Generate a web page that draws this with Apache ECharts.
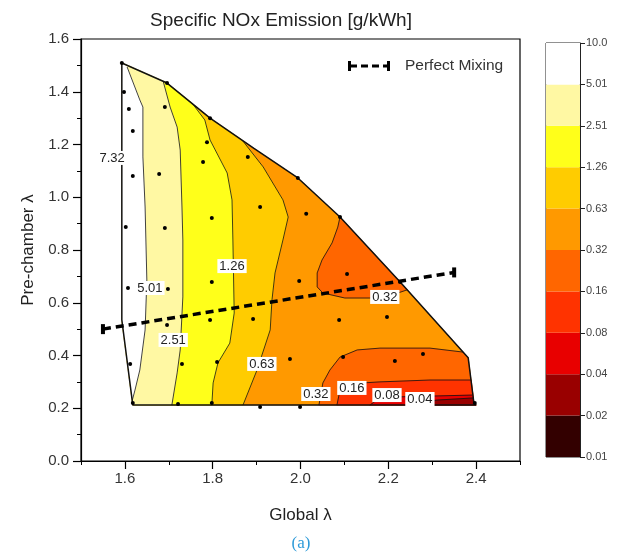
<!DOCTYPE html>
<html>
<head>
<meta charset="utf-8">
<script src="https://cdn.jsdelivr.net/npm/echarts@6/dist/echarts.min.js"></script>
<style>
  html, body { margin: 0; padding: 0; background: #fff; }
  #main { width: 627px; height: 556px; }
</style>
</head>
<body>
<div id="main"></div>
<script>
// outline of the measured domain (Global λ, Pre-chamber λ)
var domainEdge = [
  [1.593, 1.509], [1.696, 1.433], [1.794, 1.300], [1.894, 1.185], [1.994, 1.073],
  [2.090, 0.925], [2.227, 0.679], [2.382, 0.391], [2.395, 0.220], [2.400, 0.212],
  [1.618, 0.212], [1.593, 0.535], [1.593, 1.509]
];

// contour lines
var c501 = [[1.605, 1.494], [1.634, 1.369], [1.641, 1.342], [1.641, 1.153], [1.646, 0.963],
  [1.650, 0.686], [1.646, 0.497], [1.634, 0.345], [1.623, 0.269], [1.617, 0.231]];
var c251 = [[1.687, 1.441], [1.703, 1.342], [1.719, 1.266], [1.726, 1.179], [1.730, 0.963],
  [1.732, 0.838], [1.732, 0.622], [1.726, 0.421], [1.719, 0.334], [1.707, 0.212]];
var c126 = [[1.753, 1.357], [1.782, 1.293], [1.794, 1.217], [1.833, 1.092], [1.844, 0.990],
  [1.846, 0.838], [1.849, 0.561], [1.839, 0.447], [1.812, 0.372], [1.801, 0.296], [1.798, 0.212]];
var c063 = [[1.867, 1.217], [1.915, 1.115], [1.960, 0.990], [1.972, 0.925], [1.960, 0.838],
  [1.942, 0.713], [1.935, 0.610], [1.931, 0.497], [1.901, 0.345], [1.869, 0.212]];
var c032Top = [[2.090, 0.925], [2.085, 0.887], [2.072, 0.827], [2.049, 0.762], [2.038, 0.713],
  [2.038, 0.660], [2.051, 0.637], [2.101, 0.618], [2.158, 0.618], [2.215, 0.633], [2.243, 0.649]];
var c032Bottom = [[2.370, 0.413], [2.295, 0.428], [2.181, 0.428], [2.129, 0.421], [2.090, 0.394],
  [2.067, 0.345], [2.051, 0.296], [2.047, 0.258], [2.042, 0.212]];
var c016 = [[2.389, 0.307], [2.295, 0.307], [2.181, 0.300], [2.142, 0.296], [2.090, 0.269], [2.083, 0.212]];
var c008 = [[2.391, 0.250], [2.295, 0.246], [2.220, 0.243], [2.174, 0.231], [2.158, 0.212]];
var c004 = [[2.393, 0.239], [2.311, 0.231], [2.265, 0.220], [2.249, 0.212]];

// measurement points
var measuredPoints = [
  [1.593, 1.509], [1.696, 1.433], [1.598, 1.399], [1.609, 1.335], [1.618, 1.251], [1.691, 1.342],
  [1.794, 1.300], [1.787, 1.209], [1.778, 1.134], [1.880, 1.153], [1.618, 1.081], [1.678, 1.088],
  [1.994, 1.073], [1.908, 0.963], [1.798, 0.921], [2.013, 0.937], [1.602, 0.887], [1.691, 0.883],
  [2.090, 0.925], [1.798, 0.679], [1.997, 0.682], [2.106, 0.709], [2.227, 0.679], [1.607, 0.656],
  [1.698, 0.652], [1.794, 0.535], [1.696, 0.516], [1.892, 0.538], [2.088, 0.535], [2.197, 0.546],
  [1.612, 0.368], [1.730, 0.368], [1.810, 0.375], [1.976, 0.387], [2.097, 0.394], [2.215, 0.379],
  [2.279, 0.406], [1.618, 0.220], [1.721, 0.216], [1.798, 0.220], [1.908, 0.205], [1.999, 0.205],
  [2.397, 0.220]
];

var mixingLine = [[1.55, 0.500], [2.35, 0.715]];

var contourLabels = [
  { name: '7.32', value: [1.571, 1.149] },
  { name: '5.01', value: [1.657, 0.656] },
  { name: '2.51', value: [1.710, 0.459] },
  { name: '1.26', value: [1.844, 0.739] },
  { name: '0.63', value: [1.912, 0.368] },
  { name: '0.32', value: [2.192, 0.622] },
  { name: '0.32', value: [2.035, 0.254] },
  { name: '0.16', value: [2.117, 0.277] },
  { name: '0.08', value: [2.197, 0.250] },
  { name: '0.04', value: [2.272, 0.235] }
];

// colour scale, bottom to top
var levelLabels = ['0.01', '0.02', '0.04', '0.08', '0.16', '0.32', '0.63', '1.26', '2.51', '5.01', '10.0'];
var bandColors = ['#330000', '#990000', '#e80000', '#ff3300', '#ff6600', '#ff9900',
  '#ffcc00', '#ffff1a', '#fff8a3', '#ffffff'];

var xMajorTicks = [1.6, 1.8, 2.0, 2.2, 2.4];

var FONT = 'Liberation Sans, Arial, sans-serif';

// region left of a contour (higher values)
function leftRegion(c) {
  var pts = c.concat([[1.618, 0.212], [1.593, 0.535], [1.593, 1.509]]);
  for (var i = 1; i < 6; i++) {
    if (domainEdge[i][0] < c[0][0]) pts.push(domainEdge[i]);
  }
  return pts;
}
// region under a contour in the bottom-right corner (lower values)
function cornerRegion(c) {
  var pts = c.concat([[2.400, 0.212], [2.395, 0.220]]);
  if (c[0][1] > 0.391) pts.push([2.382, 0.391]);
  return pts;
}

function fillSeries(pts, color) {
  return {
    type: 'custom', xAxisIndex: 0, yAxisIndex: 0, silent: true,
    data: pts, encode: { x: 0, y: 1 },
    renderItem: function (params, api) {
      if (params.dataIndex !== 0) return;
      return {
        type: 'polygon',
        shape: { points: pts.map(function (p) { return api.coord(p); }) },
        style: { fill: color, stroke: color, lineWidth: 0.6 }
      };
    }
  };
}
function contourSeries(pts, w) {
  return {
    type: 'line', xAxisIndex: 0, yAxisIndex: 0, silent: true, symbol: 'none',
    data: pts, lineStyle: { color: '#111', width: w || 0.8 }, z: 3
  };
}

var series = [
  fillSeries(domainEdge, bandColors[5]),
  fillSeries(leftRegion(c063), bandColors[6]),
  fillSeries(leftRegion(c126), bandColors[7]),
  fillSeries(leftRegion(c251), bandColors[8]),
  fillSeries(leftRegion(c501), bandColors[9]),
  fillSeries(c032Top.concat([[2.227, 0.679]]), bandColors[4]),
  fillSeries(cornerRegion(c032Bottom), bandColors[4]),
  fillSeries(cornerRegion(c016), bandColors[3]),
  fillSeries(cornerRegion(c008), bandColors[2]),
  fillSeries(cornerRegion(c004), bandColors[1])
];
[c501, c251, c126, c063, c032Top, c032Bottom, c016, c008, c004].forEach(function (c) {
  series.push(contourSeries(c));
});
series.push(contourSeries(domainEdge, 1.5));
series.push({
  type: 'scatter', xAxisIndex: 0, yAxisIndex: 0, silent: true,
  data: measuredPoints, symbolSize: 4, itemStyle: { color: '#000', opacity: 1 }, z: 4
});
series.push({
  name: 'Perfect Mixing', type: 'line', xAxisIndex: 0, yAxisIndex: 0, silent: true,
  data: mixingLine, symbol: 'rect', symbolSize: [4, 10], itemStyle: { color: '#000' },
  lineStyle: { color: '#000', width: 3.5, type: [8, 5] }, z: 5
});
series.push({
  type: 'scatter', xAxisIndex: 0, yAxisIndex: 0, silent: true,
  data: contourLabels, symbolSize: 2, itemStyle: { color: 'rgba(0,0,0,0)', opacity: 1 }, z: 6,
  label: {
    show: true, position: 'inside', formatter: '{b}', fontSize: 13, color: '#222',
    fontFamily: FONT, backgroundColor: '#fff', padding: [1, 2, 0, 2]
  }
});
// colour bar
bandColors.forEach(function (c) {
  series.push({
    type: 'bar', xAxisIndex: 2, yAxisIndex: 1, stack: 'cb', barWidth: '100%',
    data: [1], itemStyle: { color: c }, silent: true
  });
});

var option = {
  animation: false,
  textStyle: { fontFamily: FONT },
  title: [{
    text: 'Specific NOx Emission [g/kWh]', left: 276, top: 6, textAlign: 'center',
    textStyle: { fontSize: 19, fontWeight: 'normal', color: '#222', fontFamily: FONT }
  }, {
    text: '(a)', left: 296, top: 530, textAlign: 'center',
    textStyle: { fontSize: 17, fontWeight: 'normal', color: '#2f9bd9', fontFamily: 'Liberation Serif, serif' }
  }],
  legend: {
    left: 343, top: 53, selectedMode: false, itemWidth: 42, itemHeight: 10,
    data: [{ name: 'Perfect Mixing', icon: 'path://M0,0h3v10h-3zM3,3.5h6v3h-6zM13,3.5h7v3h-7zM24,3.5h7v3h-7zM35,3.5h4v3h-4zM39,0h3v10h-3z' }],
    textStyle: { fontSize: 15.5, color: '#333', fontFamily: FONT, padding: [0, 0, 0, 10] }
  },
  grid: [
    { left: 81, top: 39, width: 439, height: 422, show: true, borderColor: '#000', borderWidth: 1.2 },
    { left: 546, top: 43, width: 34, height: 414, show: true, borderColor: '#222', borderWidth: 1 }
  ],
  xAxis: [{
    gridIndex: 0, type: 'value', min: 1.5, max: 2.5, interval: 0.1,
    name: 'Global λ', nameLocation: 'middle', nameGap: 46,
    nameTextStyle: { fontSize: 17, color: '#222' },
    axisLine: { lineStyle: { color: '#000', width: 1.2 } },
    axisTick: { length: 4, lineStyle: { color: '#000' } },
    axisLabel: {
      customValues: xMajorTicks, fontSize: 15, color: '#333', margin: 10,
      formatter: function (v) { return v.toFixed(1); }
    },
    splitLine: { show: false }
  }, {
    gridIndex: 0, type: 'value', min: 1.5, max: 2.5, position: 'bottom',
    axisLine: { show: false },
    axisTick: { customValues: xMajorTicks, length: 8, lineStyle: { color: '#000', width: 1.2 } },
    axisLabel: { show: false }, splitLine: { show: false }
  }, {
    gridIndex: 1, type: 'category', data: ['bar'], show: false
  }],
  yAxis: [{
    gridIndex: 0, type: 'value', min: 0, max: 1.6, interval: 0.2,
    name: 'Pre-chamber λ', nameLocation: 'middle', nameGap: 44,
    nameTextStyle: { fontSize: 17, color: '#222' },
    axisLine: { show: true, lineStyle: { color: '#000', width: 1.2 } },
    axisTick: { show: true, length: 8, lineStyle: { color: '#000', width: 1.2 } },
    minorTick: { show: true, splitNumber: 2, length: 4, lineStyle: { color: '#000' } },
    axisLabel: { fontSize: 15, color: '#333', margin: 12, formatter: function (v) { return v.toFixed(1); } },
    splitLine: { show: false }
  }, {
    gridIndex: 1, type: 'value', min: 0, max: 10, interval: 1, position: 'right',
    axisLine: { show: true, lineStyle: { color: '#222' } },
    axisTick: { show: true, length: 5, lineStyle: { color: '#222' } },
    axisLabel: {
      fontSize: 11, color: '#444', margin: 6,
      formatter: function (v) { return levelLabels[Math.round(v)]; }
    },
    splitLine: { show: false }
  }],
  series: series
};

var chart = echarts.init(document.getElementById('main'));
chart.setOption(option);
</script>
</body>
</html>
